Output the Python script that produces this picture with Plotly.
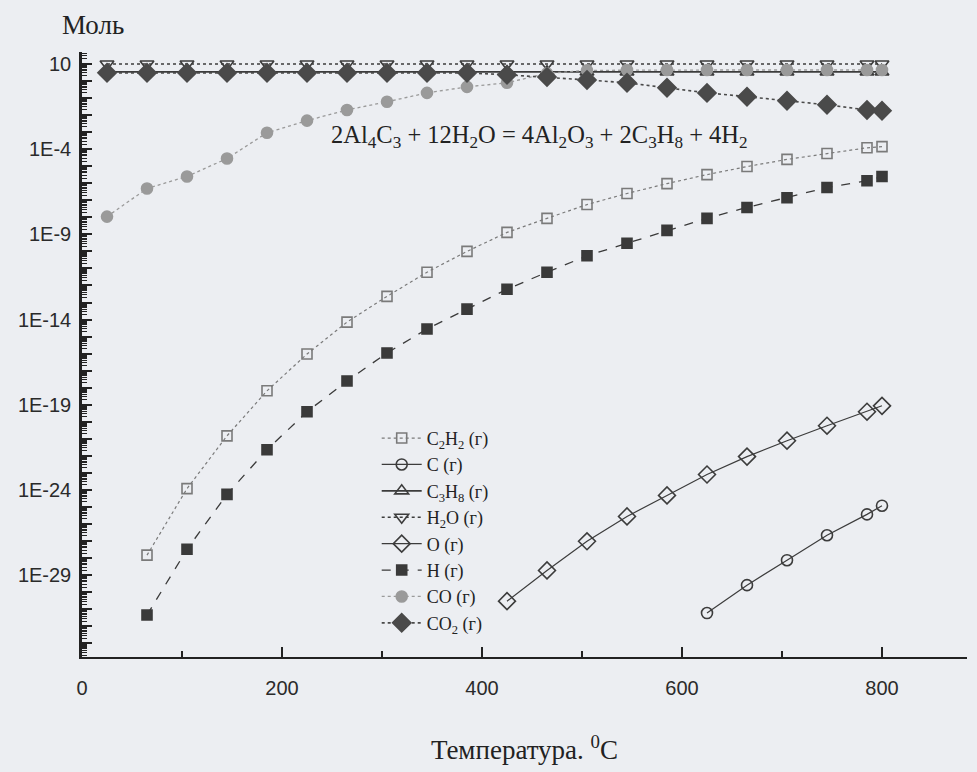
import plotly.graph_objects as go

# Temperatures, deg C
T = [25, 65, 105, 145, 185, 225, 265, 305, 345, 385, 425, 465, 505, 545, 585, 625, 665, 705, 745, 785, 800]

# Amounts, mol
C2H2 = [1.5e-28, 1.2e-24, 1.5e-21, 6.6e-19, 9.5e-17, 7.1e-15, 2.3e-13, 6.0e-12, 1.0e-10, 1.3e-9,
        8.7e-9, 5.6e-8, 2.5e-7, 9.5e-7, 3.2e-6, 9.5e-6, 2.5e-5, 5.5e-5, 1.2e-4, 1.4e-4]
C = [6.0e-32, 2.6e-30, 7.6e-29, 2.2e-27, 3.7e-26, 1.2e-25]
C3H8 = [3.4] * 21
H2O = [10.0] * 21
O = [3.0e-31, 1.9e-29, 9.8e-28, 2.8e-26, 4.8e-25, 8.1e-24, 9.1e-23, 7.8e-22, 5.9e-21, 3.9e-20, 8.7e-20]
H = [4.6e-32, 3.3e-28, 5.5e-25, 2.3e-22, 3.9e-20, 2.5e-18, 1.1e-16, 2.8e-15, 4.1e-14, 6.0e-13,
     6.0e-12, 5.5e-11, 3.0e-10, 1.7e-9, 8.7e-9, 3.8e-8, 1.4e-7, 5.6e-7, 1.4e-6, 2.5e-6]
CO = [1.1e-8, 4.9e-7, 2.5e-6, 2.8e-5, 9.1e-4, 4.7e-3, 2.0e-2, 6.0e-2, 0.20, 0.45,
      0.78, 2.8, 4.2, 4.4, 4.4, 4.4, 4.4, 4.4, 4.4, 4.4, 4.4]
CO2 = [3.0, 3.0, 3.0, 3.0, 3.0, 3.0, 3.0, 3.0, 3.0, 3.0,
       2.3, 1.7, 1.15, 0.78, 0.40, 0.20, 0.12, 0.069, 0.040, 0.020, 0.018]

T_C2H2 = T[1:]
T_H = T[1:]
T_O = T[10:]
T_C = T[15:]

Y_LABEL_EXP = [1, -4, -9, -14, -19, -24, -29]
X_LABELS = [0, 200, 400, 600, 800]
X_MINOR = [100, 300, 500, 700]

SERIF = "Liberation Serif"
SANS = "Liberation Sans"
BG = "#eceef2"

series = [
    ("C<sub>2</sub>H<sub>2</sub> (г)", T_C2H2, C2H2, "square-open", 10, "#7a7a7a", "dot", 1.2),
    ("C (г)", T_C, C, "circle-open", 11, "#3c3c3c", "solid", 1.2),
    ("C<sub>3</sub>H<sub>8</sub> (г)", T, C3H8, "triangle-up-open", 12, "#3c3c3c", "solid", 1.6),
    ("H<sub>2</sub>O (г)", T, H2O, "triangle-down-open", 12, "#3c3c3c", "dot", 1.4),
    ("O (г)", T_O, O, "diamond-open", 13, "#3c3c3c", "solid", 1.2),
    ("H (г)", T_H, H, "square", 10, "#3a3a3a", "dash", 1.3),
    ("CO (г)", T, CO, "circle", 11, "#9a9a9a", "dot", 1.3),
    ("CO<sub>2</sub> (г)", T, CO2, "diamond", 14, "#4a4a4a", "dot", 1.6),
]

fig = go.Figure()
for i, (name, xs, ys, sym, size, col, dash, lw) in enumerate(series):
    fig.add_trace(go.Scatter(
        x=xs, y=ys, name=name, mode="lines+markers",
        legendgroup=f"g{i}",
        line=dict(color=col, dash=dash, width=lw),
        marker=dict(symbol=sym, size=size, color=col,
                    line=dict(color=col, width=1.6)),
    ))

major_y = [10.0 ** e for e in range(1, -34, -1)]
major_y_text = [("10" if e == 1 else f"1E{e}") if e in Y_LABEL_EXP else "" for e in range(1, -34, -1)]
minor_y = [k * 10.0 ** e for e in range(1, -35, -1) for k in range(2, 10)]

fig.update_layout(
    width=977, height=772,
    margin=dict(l=82, r=10, t=52, b=115),
    paper_bgcolor=BG, plot_bgcolor=BG,
    showlegend=True,
    legend=dict(x=0.333, y=0.392, xanchor="left", yanchor="top",
                bgcolor="rgba(0,0,0,0)", tracegroupgap=0,
                font=dict(family=SERIF, size=18, color="#222222"),
                itemwidth=40),
    xaxis=dict(
        range=[0, 885], showgrid=False, zeroline=False,
        showline=True, linecolor="#222222", linewidth=2,
        tickmode="array", tickvals=X_LABELS, ticktext=[str(v) for v in X_LABELS],
        ticks="inside", ticklen=10, tickwidth=1.5, tickcolor="#222222",
        ticklabelstandoff=12,
        minor=dict(tickmode="array", tickvals=X_MINOR, ticks="inside", ticklen=6,
                   tickwidth=1.5, tickcolor="#222222", showgrid=False),
        tickfont=dict(family=SANS, size=20, color="#2a2a2a"),
        title=dict(text="Температура. <sup>0</sup>C", standoff=42,
                   font=dict(family=SERIF, size=27, color="#222222")),
    ),
    yaxis=dict(
        type="log", range=[-33.8, 1.7], showgrid=False, zeroline=False,
        showline=True, linecolor="#222222", linewidth=2.5,
        tickmode="array", tickvals=major_y, ticktext=major_y_text,
        ticks="inside", ticklen=10, tickwidth=2, tickcolor="#222222",
        ticklabelstandoff=4,
        minor=dict(tickmode="array", tickvals=minor_y, ticks="inside", ticklen=5,
                   tickwidth=1.2, tickcolor="#222222", showgrid=False),
        tickfont=dict(family=SANS, size=20, color="#2a2a2a"),
    ),
    annotations=[
        dict(text="Моль", xref="paper", yref="paper", x=0.0124, y=1.045,
             xanchor="center", yanchor="middle", showarrow=False,
             font=dict(family=SERIF, size=27, color="#222222")),
        dict(text="2Al<sub>4</sub>C<sub>3</sub> + 12H<sub>2</sub>O = 4Al<sub>2</sub>O<sub>3</sub> + 2C<sub>3</sub>H<sub>8</sub> + 4H<sub>2</sub>",
             xref="paper", yref="paper", x=0.5175, y=0.86,
             xanchor="center", yanchor="middle", showarrow=False,
             font=dict(family=SERIF, size=24.5, color="#222222")),
    ],
)

fig.write_html("out.html")
